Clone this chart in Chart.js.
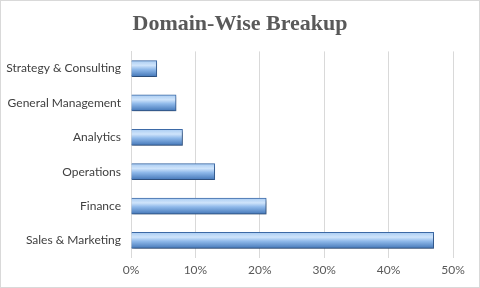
<!DOCTYPE html>
<html>
<head>
<meta charset="utf-8">
<script src="https://cdn.jsdelivr.net/npm/chart.js@4/dist/chart.umd.min.js"></script>
<style>
html,body{margin:0;padding:0;background:#fff;}
#wrap{width:480px;height:288px;position:relative;}
</style>
</head>
<body>
<div id="wrap"><canvas id="c"></canvas></div>
<script>
const categories = ["Strategy & Consulting","General Management","Analytics","Operations","Finance","Sales & Marketing"];
const shares = [4, 7, 8, 13, 21, 47];
const tickValues = [0, 10, 20, 30, 40, 50];
const chartTitle = "Domain-Wise Breakup";

const borderPlugin = {
  id: 'outerBorder',
  afterDraw(chart) {
    const ctx = chart.ctx;
    ctx.save();
    ctx.strokeStyle = '#d9d9d9';
    ctx.lineWidth = 1;
    ctx.strokeRect(0.5, 0.5, chart.width - 1, chart.height - 1);
    ctx.restore();
  }
};
const shadowPlugin = {
  id: 'barShadow',
  beforeDatasetDraw(chart) {
    const ctx = chart.ctx;
    ctx.save();
    ctx.shadowColor = 'rgba(0,0,0,0.35)';
    ctx.shadowBlur = 3;
    ctx.shadowOffsetX = 1;
    ctx.shadowOffsetY = 2;
  },
  afterDatasetDraw(chart) { chart.ctx.restore(); }
};

function barGradient(context) {
  const chart = context.chart;
  const y = chart.scales && chart.scales.y;
  if (!y || context.dataIndex === undefined) return '#6f9fd8';
  const cy = y.getPixelForValue(context.dataIndex);
  if (!isFinite(cy)) return '#6f9fd8';
  const g = chart.ctx.createLinearGradient(0, cy - 8, 0, cy + 8);
  g.addColorStop(0, '#a9ccf2');
  g.addColorStop(0.3, '#cfe4fb');
  g.addColorStop(0.55, '#8fb9ea');
  g.addColorStop(1, '#4477b8');
  return g;
}

new Chart(document.getElementById('c'), {
  type: 'bar',
  data: {
    labels: categories,
    datasets: [{
      data: shares,
      backgroundColor: barGradient,
      borderColor: '#3d6ba8',
      borderWidth: 1,
      borderSkipped: 'start',
      barThickness: 16
    }]
  },
  options: {
    indexAxis: 'y',
    responsive: true,
    maintainAspectRatio: false,
    animation: false,
    layout: { padding: { top: 11, right: 0, bottom: 6, left: 0 } },
    plugins: {
      legend: { display: false },
      tooltip: { enabled: false },
      title: {
        display: true,
        text: chartTitle,
        color: '#595959',
        font: { family: '"Liberation Serif", serif', size: 22, weight: 'bold' },
        padding: { top: 0, bottom: 14 }
      }
    },
    scales: {
      x: {
        min: 0, max: 50,
        afterBuildTicks(scale) { scale.ticks = tickValues.map(v => ({ value: v })); },
        afterFit(scale) { scale.paddingRight = 27; },
        ticks: {
          callback: v => v + '%',
          color: '#595959',
          font: { family: 'Lato, "Liberation Sans", sans-serif', size: 12 },
          padding: 5,
          maxRotation: 0
        },
        grid: { color: '#d9d9d9', drawTicks: false },
        border: { display: false }
      },
      y: {
        afterFit(scale) { scale.width = 131; },
        ticks: {
          color: '#404040',
          font: { family: 'Lato, "Liberation Sans", sans-serif', size: 12 },
          padding: 10
        },
        grid: { display: false, drawTicks: false },
        border: { display: true, color: '#d9d9d9' }
      }
    }
  },
  plugins: [borderPlugin, shadowPlugin]
});
</script>
</body>
</html>
